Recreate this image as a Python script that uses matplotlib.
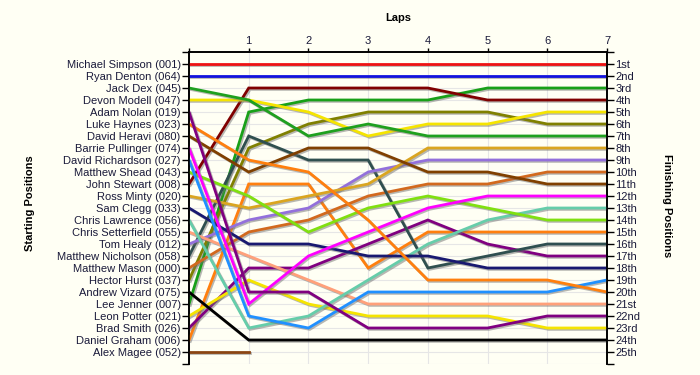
import numpy as np
import matplotlib
matplotlib.use('Agg')
import matplotlib.pyplot as plt
import matplotlib.patheffects as pe

plt.rcParams['font.family'] = ['Liberation Sans', 'DejaVu Sans']

laps = [0, 1, 2, 3, 4, 5, 6, 7]

drivers = ['Michael Simpson', 'Ryan Denton', 'Jack Dex', 'Devon Modell', 'Adam Nolan',
           'Luke Haynes', 'David Heravi', 'Barrie Pullinger', 'David Richardson', 'Matthew Shead',
           'John Stewart', 'Ross Minty', 'Sam Clegg', 'Chris Lawrence', 'Chris Setterfield',
           'Tom Healy', 'Matthew Nicholson', 'Matthew Mason', 'Hector Hurst', 'Andrew Vizard',
           'Lee Jenner', 'Leon Potter', 'Brad Smith', 'Daniel Graham', 'Alex Magee']
car_numbers = ['001', '064', '045', '047', '019', '023', '080', '074', '027', '043',
               '008', '020', '033', '056', '055', '012', '058', '000', '037', '075',
               '007', '021', '026', '006', '052']
line_colors = ['#ee1111', '#1111dd', '#1ea01e', '#f5e400', '#800080',
               '#ff7f0e', '#804000', '#ff00ff', '#2090ff', '#80e010',
               '#800000', '#daa520', '#191970', '#66cdaa', '#ffa07a',
               '#9370db', '#2f4f4f', '#d2691e', '#808000', '#000000',
               '#18a018', '#f5e400', '#800080', '#ff7f0e', '#8b4513']

# position of each driver at the end of every lap (lap 0 = grid)
lap_positions = [
    [1, 1, 1, 1, 1, 1, 1, 1],
    [2, 2, 2, 2, 2, 2, 2, 2],
    [3, 4, 7, 6, 7, 7, 7, 7],
    [4, 4, 5, 7, 6, 6, 5, 5],
    [5, 20, 20, 23, 23, 23, 22, 22],
    [6, 9, 10, 14, 19, 19, 19, 20],
    [7, 10, 8, 8, 10, 10, 11, 11],
    [8, 21, 17, 15, 13, 12, 12, 12],
    [9, 22, 23, 20, 20, 20, 20, 19],
    [10, 12, 15, 13, 12, 13, 14, 14],
    [11, 3, 3, 3, 3, 4, 4, 4],
    [12, 13, 12, 11, 8, 8, 8, 8],
    [13, 16, 16, 17, 17, 18, 18, 18],
    [14, 23, 22, 19, 16, 14, 13, 13],
    [15, 17, 19, 21, 21, 21, 21, 21],
    [16, 14, 13, 10, 9, 9, 9, 9],
    [17, 7, 9, 9, 18, 17, 16, 16],
    [18, 15, 14, 12, 11, 11, 10, 10],
    [19, 8, 6, 5, 5, 5, 6, 6],
    [20, 24, 24, 24, 24, 24, 24, 24],
    [21, 5, 4, 4, 4, 3, 3, 3],
    [22, 19, 21, 22, 22, 22, 23, 23],
    [23, 18, 18, 16, 14, 16, 17, 17],
    [24, 11, 11, 18, 15, 15, 15, 15],
    [25, 25],
]


def ordinal(n):
    if 10 <= n % 100 <= 20:
        suffix = 'th'
    else:
        suffix = {1: 'st', 2: 'nd', 3: 'rd'}.get(n % 10, 'th')
    return str(n) + suffix


bg = '#fffff4'
n_pos = len(drivers)
fs = 8

fig = plt.figure(figsize=(7, 3.75), dpi=100, facecolor=bg)
ax = fig.add_axes([189 / 700, 1 - 364 / 375, (607 - 189) / 700, (364 - 52) / 375])
ax.set_facecolor(bg)

shadow = [pe.SimpleLineShadow(offset=(1, -1), shadow_color='#707070', alpha=0.5), pe.Normal()]

# draw from the back of the field so the leaders end up on top
for i in reversed(range(n_pos)):
    pos = lap_positions[i]
    ax.plot(laps[:len(pos)], pos, color=line_colors[i], lw=2, solid_joinstyle='miter',
            path_effects=shadow, zorder=3)

ax.set_xlim(0, 7)
ax.set_ylim(n_pos + 1, 0)

# grid
for p in range(1, n_pos + 2):
    ax.axhline(p, color='#e6e6e6', lw=0.8, zorder=1)
for lap in laps:
    ax.axvline(lap, color='#e6e6e6', lw=0.8, zorder=1)

ticks = list(range(0, n_pos + 2))
left_labels = [''] + ['%s (%s)' % (d, c) for d, c in zip(drivers, car_numbers)] + ['']
right_labels = [''] + [ordinal(k) for k in range(1, n_pos + 1)] + ['']

ax.set_yticks(ticks)
ax.set_yticklabels(left_labels, fontsize=fs)
ax.tick_params(axis='y', direction='out', length=5, width=1, pad=1, labelcolor='#1a1a3a')

ax2 = ax.twinx()
ax2.set_ylim(n_pos + 1, 0)
ax2.set_yticks(ticks)
ax2.set_yticklabels(right_labels, fontsize=fs)
ax2.tick_params(axis='y', direction='out', length=5, width=1, pad=1, labelcolor='#1a1a3a')

ax.xaxis.tick_top()
ax.set_xticks(laps)
ax.set_xticklabels([''] + [str(l) for l in laps[1:]], fontsize=fs)
ax.tick_params(axis='x', direction='out', length=3, width=1, pad=1, labelcolor='#1a1a3a')
ax.xaxis.set_label_position('top')
ax.set_xlabel('Laps', fontsize=fs, fontweight='bold', labelpad=11)

for a in (ax, ax2):
    a.spines['bottom'].set_visible(False)
    for s in ('left', 'right', 'top'):
        a.spines[s].set_linewidth(1.2)

fig.text(30 / 700, 1 - 203 / 375, 'Starting Positions', rotation=90, ha='center', va='center',
         fontsize=fs, fontweight='bold')
fig.text(667 / 700, 1 - 206 / 375, 'Finishing Positions', rotation=-90, ha='center', va='center',
         fontsize=fs, fontweight='bold')

fig.savefig('out.png', dpi=100, facecolor=bg)
